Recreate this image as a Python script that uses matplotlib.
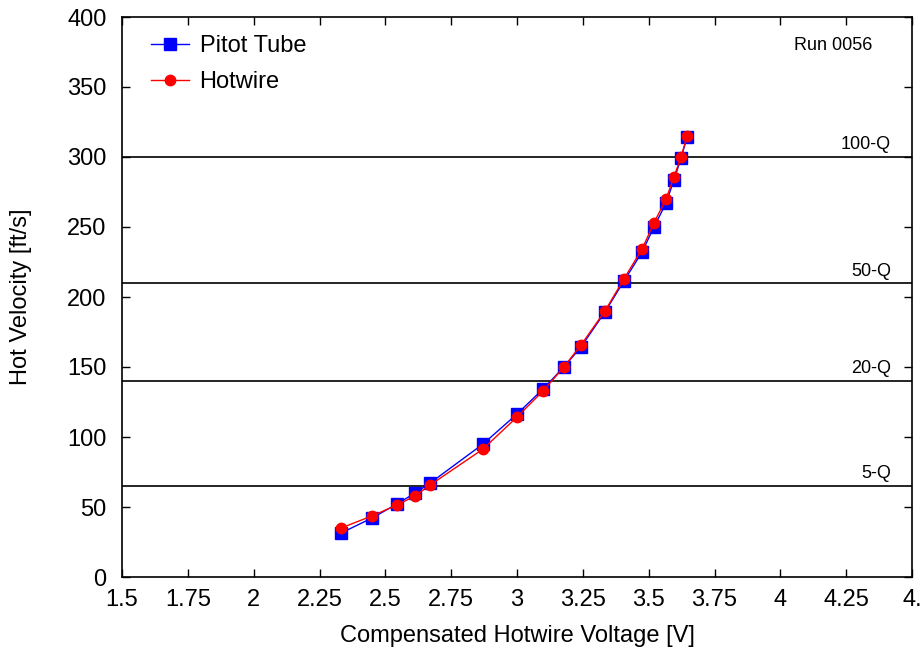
import matplotlib
matplotlib.use("Agg")
import matplotlib.pyplot as plt

plt.rcParams['font.family'] = ['Liberation Sans', 'DejaVu Sans']

pitot_v = [2.332, 2.449, 2.544, 2.613, 2.670, 2.871, 3.000, 3.099, 3.178, 3.243,
           3.334, 3.406, 3.475, 3.520, 3.566, 3.596, 3.623, 3.646]
pitot_u = [31.4, 42.1, 52.1, 60.0, 67.1, 95.0, 116.4, 134.3, 150.0, 164.3,
           189.3, 211.4, 232.1, 250.0, 267.0, 283.6, 299.3, 314.3]
hot_v = pitot_v
hot_u = [35.0, 43.6, 51.4, 57.9, 65.7, 91.4, 114.3, 132.9, 150.0, 165.7,
         190.0, 212.9, 234.3, 252.9, 270.0, 285.7, 300.0, 315.0]

q_levels = [300, 210, 140, 65]
q_labels = ["100-Q", "50-Q", "20-Q", "5-Q"]

x_ticks = [1.5, 1.75, 2, 2.25, 2.5, 2.75, 3, 3.25, 3.5, 3.75, 4, 4.25, 4.5]
x_ticklabels = ["1.5", "1.75", "2", "2.25", "2.5", "2.75", "3", "3.25", "3.5", "3.75", "4", "4.25", "4."]
y_ticks = [0, 50, 100, 150, 200, 250, 300, 350, 400]

fig = plt.figure(figsize=(9.22, 6.53), dpi=100)
ax = fig.add_axes([122/922, 1 - 577/653, (912-122)/922, (577-17)/653])

for lvl, lab in zip(q_levels, q_labels):
    ax.axhline(lvl, color='black', lw=1.2, zorder=1)
    ax.text(4.42, lvl + 2.5, lab, ha='right', va='bottom', fontsize=13)

ax.plot(pitot_v, pitot_u, color='blue', lw=1.0, marker='s', markersize=9,
        label='Pitot Tube', zorder=2)
ax.plot(hot_v, hot_u, color='red', lw=1.0, marker='o', markersize=7.5,
        label='Hotwire', zorder=3)

ax.text(4.20, 380, "Run 0056", ha='center', va='center', fontsize=13)

ax.set_xlim(1.5, 4.5)
ax.set_ylim(0, 400)
ax.set_xticks(x_ticks)
ax.set_xticklabels(x_ticklabels)
ax.set_yticks(y_ticks)
ax.tick_params(direction='in', top=True, right=True, length=6, width=1,
               labelsize=17)
ax.tick_params(axis='x', pad=9)
ax.tick_params(axis='y', pad=11)
for s in ax.spines.values():
    s.set_linewidth(1.2)

ax.set_xlabel("Compensated Hotwire Voltage [V]", fontsize=17)
ax.set_ylabel("Hot Velocity [ft/s]", fontsize=17)
ax.xaxis.set_label_coords(0.5, -(636 - 577) / 560, transform=ax.transAxes)
ax.xaxis.label.set_va('center')
ax.yaxis.set_label_coords(-(122 - 21) / 790, 0.5, transform=ax.transAxes)
ax.yaxis.label.set_va('center')

leg = ax.legend(loc='upper left', frameon=False, fontsize=17,
                handlelength=1.6, handletextpad=0.45, labelspacing=0.6,
                borderaxespad=0.0, bbox_to_anchor=(0.025, 0.985))

fig.savefig("out.png", dpi=100)
